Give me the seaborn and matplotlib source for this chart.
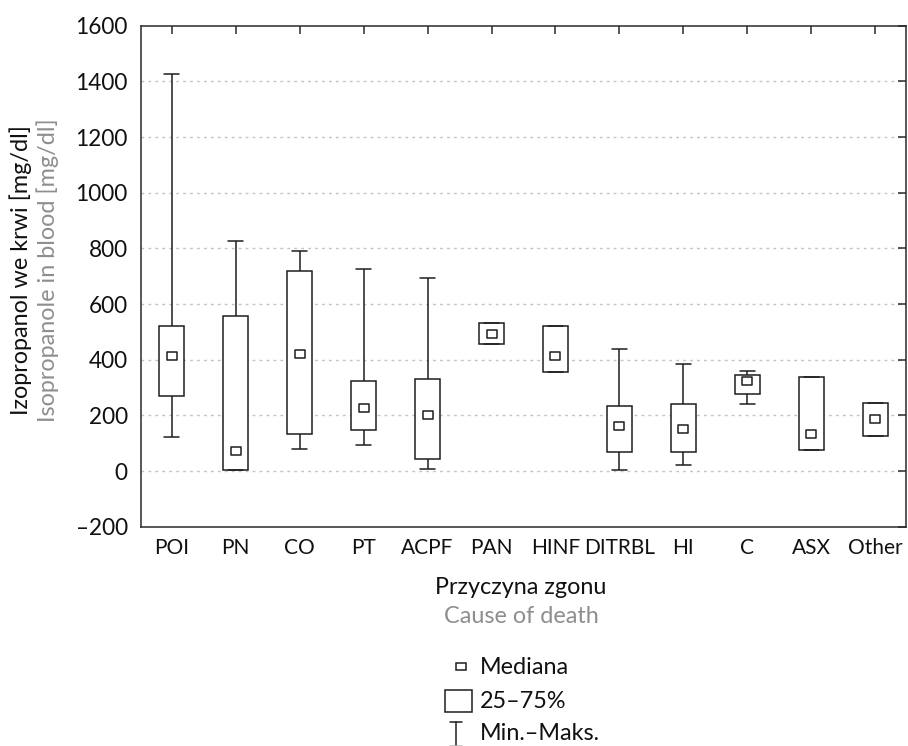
import numpy as np
import pandas as pd
import matplotlib
matplotlib.use("Agg")
import matplotlib.pyplot as plt
from matplotlib.path import Path
from matplotlib.patches import Rectangle
from matplotlib.lines import Line2D
import seaborn as sns

# ---- data ----
categories = ["POI", "PN", "CO", "PT", "ACPF", "PAN", "HINF", "DITRBL", "HI", "C", "ASX", "Other"]
mins    = [124,   4,  78,  95,   6, 455, 355,   4,  22, 240,  74, 125]
q1s     = [268,   4, 133, 149,  45, 455, 355,  67,  70, 276,  74, 125]
medians = [414,  73, 422, 226, 203, 494, 412, 163, 151, 324, 132, 188]
q3s     = [520, 556, 718, 322, 331, 531, 520, 232, 240, 346, 339, 244]
maxs    = [1427, 827, 790, 727, 693, 531, 520, 437, 384, 361, 339, 244]

ytick_values = [-200, 0, 200, 400, 600, 800, 1000, 1200, 1400, 1600]
ytick_labels = ["–200", "0", "200", "400", "600", "800", "1000", "1200", "1400", "1600"]
grid_values = [0, 200, 400, 600, 800, 1000, 1200, 1400]

ylabel_pl = "Izopropanol we krwi [mg/dl]"
ylabel_en = "Isopropanole in blood [mg/dl]"
xlabel_pl = "Przyczyna zgonu"
xlabel_en = "Cause of death"
legend_labels = ["Mediana", "25–75%", "Min.–Maks."]

# five-number summaries in long form
rows = []
for c, a, b, m, d, e in zip(categories, mins, q1s, medians, q3s, maxs):
    for v in (a, b, m, d, e):
        rows.append({"cat": c, "val": v})
df = pd.DataFrame(rows)

# ---- style ----
sns.set_theme(style="white")
plt.rcParams["font.family"] = ["Lato", "DejaVu Sans"]
FS_XTICK = 15.0
FS_YTICK = 16.3
FS = 16.8
DARK = "#1e1e1e"
GRAY = "#8e8e8e"
LW = 1.1

W, H = 908, 746
fig = plt.figure(figsize=(W / 100, H / 100), dpi=100)
fig.patch.set_facecolor("white")

L, R, T, B = 141, 906, 25.7, 526.7
ax = fig.add_axes([L / W, 1 - B / H, (R - L) / W, (B - T) / H])

sns.boxplot(data=df, x="cat", y="val", order=categories, ax=ax,
            whis=(0, 100), width=0.4, color="white", linecolor=DARK,
            linewidth=LW, fill=True, showfliers=False,
            medianprops={"visible": False}, capwidths=0.23)

rect_marker = Path([(-5, -4), (5, -4), (5, 4), (-5, 4), (-5, -4)],
                   [Path.MOVETO, Path.LINETO, Path.LINETO, Path.LINETO, Path.CLOSEPOLY])
sns.stripplot(x=categories, y=medians, order=categories, ax=ax, jitter=False,
              marker=rect_marker, size=7.2, color="white", edgecolor=DARK,
              linewidth=LW, zorder=6)

ax.set_xlim(-0.48, len(categories) - 0.52)
ax.set_ylim(-200, 1600)
ax.set_yticks(ytick_values)
ax.set_yticklabels(ytick_labels)
ax.set_xlabel("")
ax.set_ylabel("")

for v in grid_values:
    ax.axhline(v, color="#c4c4c4", lw=1.0, ls=(0, (2, 3)), zorder=0.5)
ax.set_axisbelow(True)

for s in ax.spines.values():
    s.set_visible(True)
    s.set_color("#2a2a2a")
    s.set_linewidth(LW)

ax.tick_params(axis="both", which="both", direction="in", length=6, width=LW,
               color="#2a2a2a", top=True, right=True, labelcolor="#111111")
ax.tick_params(axis="y", pad=9.5, labelsize=FS_YTICK)
ax.tick_params(axis="x", pad=8, labelsize=FS_XTICK)

# ---- overlay for labels and legend (pixel coordinates) ----
ov = fig.add_axes([0, 0, 1, 1], zorder=-1)
ov.set_xlim(0, W)
ov.set_ylim(H, 0)
ov.axis("off")
ov.patch.set_alpha(0)

ov.text(21, 270, ylabel_pl, rotation=90, ha="center", va="center", fontsize=FS, color="#111111")
ov.text(48, 270, ylabel_en, rotation=90, ha="center", va="center", fontsize=FS, color=GRAY)
ov.text(521, 594, xlabel_pl, ha="center", va="baseline", fontsize=FS, color="#111111")
ov.text(521, 623, xlabel_en, ha="center", va="baseline", fontsize=FS, color=GRAY)

# legend
ov.add_patch(Rectangle((455.5, 663), 10.5, 7, fill=False, ec=DARK, lw=LW))
ov.add_patch(Rectangle((445, 690), 26.5, 21.5, fill=False, ec=DARK, lw=LW))
ov.add_line(Line2D([450, 462], [722, 722], color=DARK, lw=LW))
ov.add_line(Line2D([456, 456], [722, 745.5], color=DARK, lw=LW))
ov.add_line(Line2D([450, 462], [745.5, 745.5], color="#bbbbbb", lw=LW))
ov.text(480, 674.3, legend_labels[0], ha="left", va="baseline", fontsize=FS, color="#111111")
ov.text(480, 708, legend_labels[1], ha="left", va="baseline", fontsize=FS, color="#111111")
ov.text(480, 740, legend_labels[2], ha="left", va="baseline", fontsize=FS, color="#111111")

fig.savefig("out.png", dpi=100, facecolor="white")
